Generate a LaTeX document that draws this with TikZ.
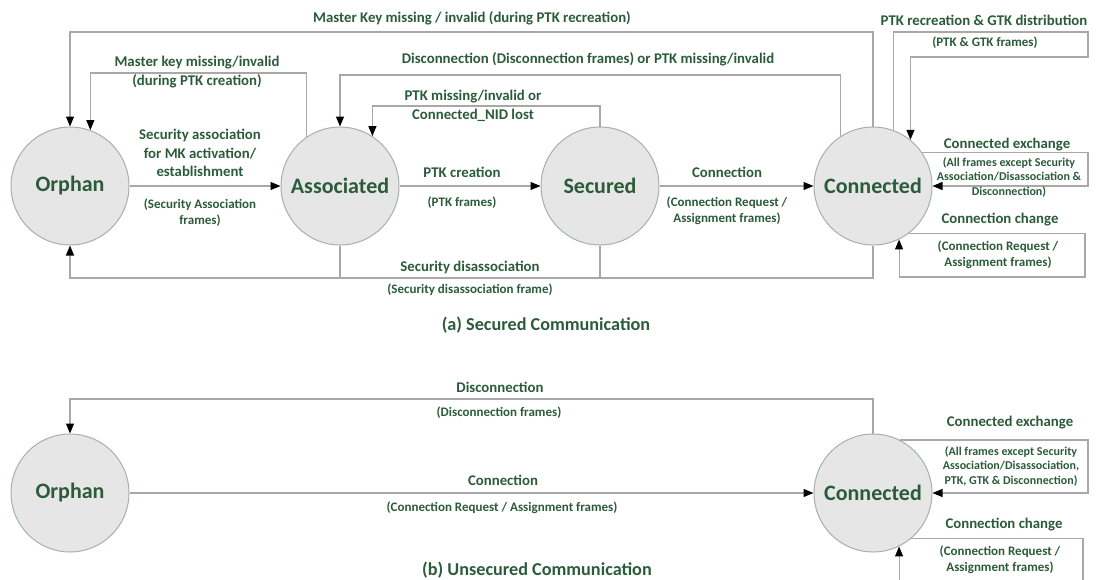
\documentclass[tikz,border=0pt]{standalone}
\usepackage{fontspec}
\setmainfont{Carlito}
\usetikzlibrary{arrows.meta}
\definecolor{txt}{HTML}{2B5B3A}
\definecolor{ln}{HTML}{A8A8A8}
\definecolor{cfill}{HTML}{E6E6E6}
\definecolor{cedge}{HTML}{A3B3A8}
\tikzset{
  state/.style={circle, fill=cfill, draw=cedge, line width=1pt, minimum size=118pt, inner sep=0pt, text=txt, font=\fontsize{22}{24}\selectfont\bfseries},
  lbl/.style={text=txt, align=center, inner sep=0pt, font=\fontsize{14.8}{18.5}\selectfont\bfseries},
  sublbl/.style={text=txt, align=center, inner sep=0pt, font=\fontsize{13}{16}\selectfont\bfseries},
  tinylbl/.style={text=txt, align=center, inner sep=0pt, font=\fontsize{12}{14.5}\selectfont\bfseries},
  caplbl/.style={text=txt, align=center, inner sep=0pt, font=\fontsize{18.2}{22}\selectfont\bfseries},
  wire/.style={draw=ln, line width=1.1pt},
  conn/.style={wire, -{Triangle[length=10pt,width=8pt,color=black]}}
}
\begin{document}
\begin{tikzpicture}[x=1pt,y=-1pt]
\useasboundingbox (0,0) rectangle (1096,579);
% states (a)
\node[state] (O1) at (70,186) {Orphan};
\node[state] (A1) at (340,186) {Associated};
\node[state] (S1) at (600,186) {Secured};
\node[state] (C1) at (873,186) {Connected};
% states (b)
\node[state] (O2) at (70,493) {Orphan};
\node[state] (C2) at (873,493) {Connected};
% helper coordinates
\coordinate (ya1) at (0,32);
\coordinate (ya2) at (0,73);
\coordinate (ya3) at (0,75);
\coordinate (ya4) at (0,106);
\coordinate (yab) at (0,278);
\coordinate (xr) at (1088,0);
\coordinate (p1) at (1088,32);
\coordinate (p2) at (1088,57);
\coordinate (q1) at (1085,277);
\coordinate (yb1) at (0,399);
\coordinate (q2) at (1083,584);
% connectors (a)
\draw[conn] (O1) -- (A1);
\draw[conn] (A1) -- (S1);
\draw[conn] (S1) -- (C1);
\draw[conn] (C1.north) -- (C1.north |- ya1) -| (O1.north);
\draw[conn] (A1.124) -- (A1.124 |- ya2) -| (O1.70);
\draw[conn] (C1.123) -- (C1.123 |- ya3) -| (A1.north);
\draw[conn] (S1.north) -- (S1.north |- ya4) -| (A1.57);
\draw[conn] (C1.south) -- (C1.south |- yab) -| (O1.south);
\draw[wire] (A1.south) -- (A1.south |- yab);
\draw[wire] (S1.south) -- (S1.south |- yab);
\draw[conn] (C1.70) -- (C1.70 |- p1) -- (p1) -- (p2) -| (C1.51);
\draw[conn] (C1.34) -- (C1.34 -| xr) -- (xr |- C1.east) -- (C1.east);
\draw[conn] (C1.-53) -- (C1.-53 -| q1) -- (q1) -| (C1.-64);
% connectors (b)
\draw[conn] (O2) -- (C2);
\draw[conn] (C2.north) -- (C2.north |- yb1) -| (O2.north);
\draw[conn] (C2.63) -- (C2.63 -| xr) -- (xr |- C2.east) -- (C2.east);
\draw[conn] (C2.-50) -- (C2.-50 -| q2) -- (q2) -| (C2.-64);
% labels (a)
\node[lbl] (l1) at (472,18) {Master Key missing / invalid (during PTK recreation)};
\node[lbl] (l2) at (197,72) {Master key missing/invalid\\(during PTK creation)};
\node[lbl] (l3) at (588,59) {Disconnection (Disconnection frames) or PTK missing/invalid};
\node[lbl] (l4) at (473,106) {PTK missing/invalid or\\Connected\_NID lost};
\node[lbl] (l5) at (200,153) {Security association\\for MK activation/\\establishment};
\node[sublbl] (l6) at (200,213) {(Security Association\\frames)};
\node[lbl] (l7) at (462,172) {PTK creation};
\node[sublbl] (l8) at (462,203) {(PTK frames)};
\node[lbl] (l9) at (727,172) {Connection};
\node[sublbl] (l10) at (727,211) {(Connection Request /\\Assignment frames)};
\node[lbl] (l11) at (470,267) {Security disassociation};
\node[sublbl] (l12) at (470,290) {(Security disassociation frame)};
\node[lbl] (l13) at (984,20) {PTK recreation \& GTK distribution};
\node[sublbl] (l14) at (985,43) {(PTK \& GTK frames)};
\node[lbl] (l15) at (1007,145) {Connected exchange};
\node[tinylbl] (l16) at (1009,177) {(All frames except Security\\Association/Disassociation \&\\Disconnection)};
\node[lbl] (l17) at (1000,220) {Connection change};
\node[sublbl] (l18) at (998,255) {(Connection Request /\\Assignment frames)};
\node[caplbl] (capa) at (546,325) {(a) Secured Communication};
% labels (b)
\node[lbl] (m1) at (500,387) {Disconnection};
\node[sublbl] (m2) at (499,413) {(Disconnection frames)};
\node[lbl] (m3) at (503,480) {Connection};
\node[sublbl] (m4) at (502,508) {(Connection Request / Assignment frames)};
\node[lbl] (m5) at (1010,423) {Connected exchange};
\node[tinylbl] (m6) at (1011,466) {(All frames except Security\\Association/Disassociation,\\PTK, GTK \& Disconnection)};
\node[lbl] (m7) at (1004,525) {Connection change};
\node[sublbl] (m8) at (1000,560) {(Connection Request /\\Assignment frames)};
\node[caplbl] (capb) at (537,570) {(b) Unsecured Communication};
\end{tikzpicture}
\end{document}
